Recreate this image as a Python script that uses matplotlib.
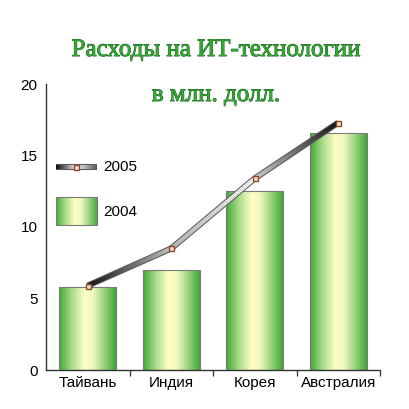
import numpy as np
import matplotlib
matplotlib.use('Agg')
import matplotlib.pyplot as plt
import matplotlib.patheffects as pe
from matplotlib.collections import LineCollection
from matplotlib.colors import LinearSegmentedColormap

countries = ['Тайвань', 'Индия', 'Корея', 'Австралия']
spend_2004 = [5.8, 7.0, 12.5, 16.6]
spend_2005 = [5.9, 8.5, 13.4, 17.3]
title_lines = ['Расходы на ИТ-технологии', 'в млн. долл.']

bar_cmap = LinearSegmentedColormap.from_list(
    'bar', [(0.0, '#3faa32'), (0.22, '#a8db8c'), (0.45, '#ffffc4'),
            (0.6, '#eef8c0'), (0.8, '#98d27c'), (1.0, '#42a636')])
tube_cmaps = [
    LinearSegmentedColormap.from_list('s1', ['#0c0c0c', '#c8c8c8']),
    LinearSegmentedColormap.from_list('s2', ['#bcbcbc', '#ffffff']),
    LinearSegmentedColormap.from_list('s3', ['#d4d4d4', '#0c0c0c']),
]
legend_cmap = LinearSegmentedColormap.from_list('lg', ['#0c0c0c', '#f4f4f4', '#5a5a5a'])


def gradient_line(ax, x0, y0, x1, y1, cmap, transform, n=60):
    xs = np.linspace(x0, x1, n + 1)
    ys = np.linspace(y0, y1, n + 1)
    ax.plot([x0, x1], [y0, y1], color='#5c5c5c', lw=4.4,
            solid_capstyle='butt', transform=transform, zorder=4)
    segs = np.stack([np.column_stack([xs[:-1], ys[:-1]]),
                     np.column_stack([xs[1:], ys[1:]])], axis=1)
    lc = LineCollection(segs, colors=cmap(np.linspace(0, 1, n)), linewidths=2.9,
                        capstyle='butt', transform=transform, zorder=5)
    ax.add_collection(lc)


fig = plt.figure(figsize=(4.09, 4.09), dpi=100)
ax = fig.add_axes([46 / 409, 39 / 409, 334 / 409, 286 / 409])

x = np.arange(len(countries))
grad = np.linspace(0, 1, 256).reshape(1, -1)
bars = ax.bar(x, spend_2004, width=0.68, facecolor='none',
              edgecolor='#7a7a7a', linewidth=0.8, zorder=3)
for rect in bars:
    im = ax.imshow(grad, cmap=bar_cmap, aspect='auto', zorder=2,
                   extent=[rect.get_x(), rect.get_x() + rect.get_width(),
                           0, rect.get_height()])
    im.set_clip_path(rect)

for i in range(len(x) - 1):
    gradient_line(ax, x[i], spend_2005[i], x[i + 1], spend_2005[i + 1],
                  tube_cmaps[i], ax.transData)
ax.plot(x, spend_2005, linestyle='none', marker='s', markersize=3.6,
        markerfacecolor='#f6dcc6', markeredgecolor='#8a4a2a',
        markeredgewidth=1.0, zorder=6)

ax.set_xlim(-0.5, 3.5)
ax.set_ylim(0, 20)
ax.set_yticks([0, 5, 10, 15, 20])
ax.set_xticks(x)
ax.set_xticklabels(countries)
ax.set_xticks([0.5, 1.5, 2.5, 3.5], minor=True)
ax.tick_params(axis='x', which='major', length=0, pad=4)
ax.tick_params(axis='x', which='minor', length=4, width=0.9, color='#333333')
ax.tick_params(axis='y', length=0, pad=6)
for lbl in ax.get_xticklabels() + ax.get_yticklabels():
    lbl.set_fontfamily('Liberation Sans')
    lbl.set_fontsize(11)
for side in ['top', 'right']:
    ax.spines[side].set_visible(False)
for side in ['left', 'bottom']:
    ax.spines[side].set_color('#333333')
    ax.spines[side].set_linewidth(1.0)

# hand-made legend
gradient_line(ax, 0.03, 0.71, 0.153, 0.71, legend_cmap, ax.transAxes)
ax.plot([0.09], [0.71], linestyle='none', marker='s', markersize=3.6,
        markerfacecolor='#f6dcc6', markeredgecolor='#8a4a2a',
        markeredgewidth=1.0, transform=ax.transAxes, zorder=6)
ax.text(0.171, 0.71, '2005', transform=ax.transAxes, va='center',
        fontsize=11, family='Liberation Sans')
leg_rect = plt.Rectangle((0.03, 0.507), 0.123, 0.098, transform=ax.transAxes,
                         facecolor='none', edgecolor='#7a7a7a', lw=0.8, zorder=3)
ax.add_patch(leg_rect)
im = ax.imshow(grad, cmap=bar_cmap, aspect='auto', zorder=2,
               extent=[0.03, 0.153, 0.507, 0.605], transform=ax.transAxes)
im.set_clip_path(leg_rect)
ax.text(0.171, 0.552, '2004', transform=ax.transAxes, va='center',
        fontsize=11, family='Liberation Sans')
ax.set_xlim(-0.5, 3.5)
ax.set_ylim(0, 20)

outline = [pe.withStroke(linewidth=0.7, foreground='#1f5f1f')]
fig.text(216 / 409, 1 - 50 / 409, title_lines[0], ha='center', va='center',
         fontsize=18, family='Liberation Serif', color='#33a833',
         path_effects=outline)
fig.text(216 / 409, 1 - 95 / 409, title_lines[1], ha='center', va='center',
         fontsize=18, family='Liberation Serif', color='#33a833',
         path_effects=outline)

fig.savefig('out.png', dpi=100)
